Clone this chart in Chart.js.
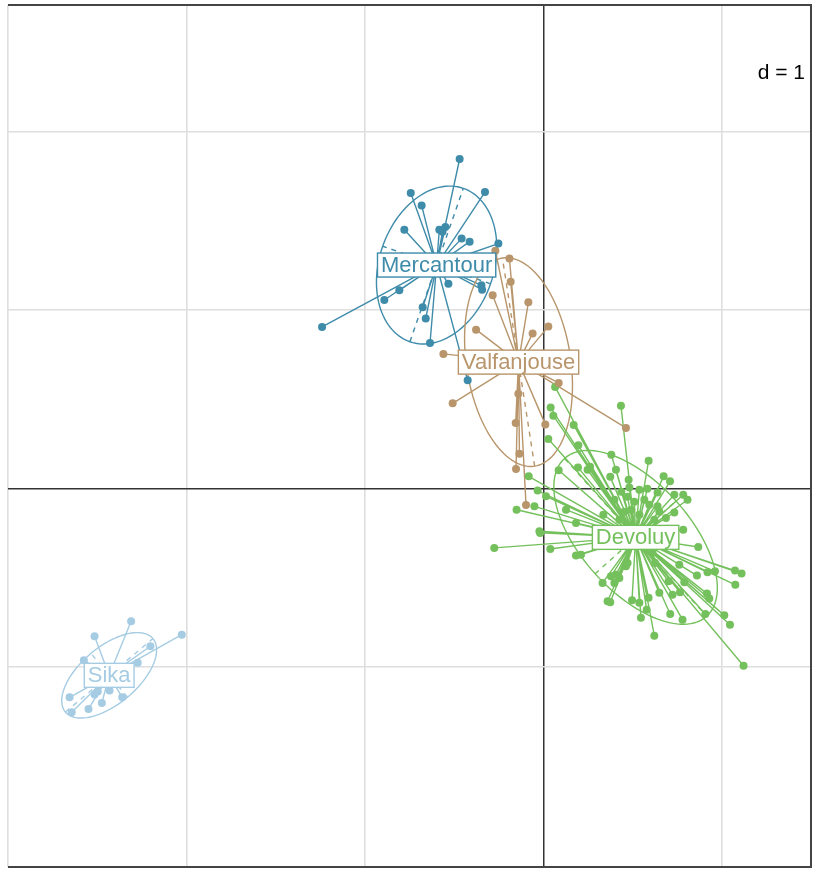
<!DOCTYPE html>
<html>
<head>
<meta charset="utf-8">
<script src="https://cdn.jsdelivr.net/npm/chart.js@4/dist/chart.umd.min.js"></script>
<style>
  body { margin: 0; background: #fff; }
  #wrap { width: 817px; height: 876px; }
</style>
</head>
<body>
<div id="wrap"><canvas id="myChart" width="817" height="876"></canvas></div>
<script>
// groups of the s.class plot
let groups = ['Mercantour', 'Valfanjouse', 'Devoluy', 'Sika'];
let groupColors = ['#3e8baa', '#b8956b', '#74c05c', '#a6cce3'];

// group centroids (where the labels sit)
let centerX = [-0.598, -0.139, 0.517, -2.433];
let centerY = [1.253, 0.709, -0.273, -1.046];

// ellipse semi axes and angle (degrees)
let ellA = [0.455, 0.59, 0.595, 0.32];
let ellB = [0.32, 0.292, 0.305, 0.16];
let ellAngle = [70.8, 98.8, -48, 40];

let mercantour = [
  [-0.469, 1.847], [-0.743, 1.657], [-0.327, 1.662], [-0.682, 1.587], [-0.779, 1.451],
  [-0.583, 1.451], [-0.549, 1.466], [-0.565, 1.440], [-0.458, 1.401], [-0.413, 1.384],
  [-0.252, 1.373], [-0.532, 1.148], [-0.347, 1.139], [-0.343, 1.115], [-0.807, 1.111],
  [-0.891, 1.057], [-0.676, 1.016], [-0.659, 0.954], [-1.240, 0.906], [-0.635, 0.816],
  [-0.424, 0.607]
];

let valfanjouse = [
  [-0.190, 1.289], [-0.183, 1.160], [-0.284, 1.083], [-0.084, 1.044], [-0.377, 0.891],
  [-0.060, 0.870], [0.028, 0.908], [-0.560, 0.755], [0.086, 0.592], [-0.508, 0.478],
  [0.463, 0.340], [-0.140, 0.532], [-0.155, 0.368], [0.011, 0.360], [-0.134, 0.196],
  [-0.153, 0.110], [-0.097, -0.091], [-0.269, 1.333]
];

let devoluy = [
  [0.066, 0.570], [0.041, 0.454], [0.056, 0.409], [0.170, 0.357], [0.028, 0.278],
  [0.196, 0.243], [0.381, 0.190], [0.086, 0.103], [0.194, 0.119], [0.248, 0.106],
  [0.262, 0.122], [-0.082, 0.069], [-0.032, -0.011], [0.015, -0.043], [-0.050, -0.099],
  [-0.150, -0.118], [0.127, -0.118], [0.183, -0.192], [0.336, -0.146], [0.375, 0.066],
  [0.407, 0.106], [-0.022, -0.239], [0.435, 0.465], [0.590, 0.157], [0.478, 0.050],
  [0.674, 0.069], [0.710, 0.041], [0.538, -0.006], [0.640, -0.021], [0.734, -0.034],
  [0.784, -0.034], [0.808, -0.062], [0.640, -0.099], [0.734, -0.133], [0.687, -0.164],
  [0.784, -0.230], [-0.018, -0.248], [-0.275, -0.332], [0.039, -0.338], [0.183, -0.374],
  [0.211, -0.370], [0.332, -0.528], [0.360, -0.631], [0.375, -0.637], [0.398, -0.528],
  [0.407, -0.482], [0.868, -0.327], [0.762, -0.426], [0.920, -0.469], [0.962, -0.463],
  [1.074, -0.459], [1.111, -0.476], [0.861, -0.487], [1.076, -0.539], [0.790, -0.525],
  [0.702, -0.519], [0.650, -0.584], [0.724, -0.594], [0.766, -0.581], [0.917, -0.588],
  [0.930, -0.616], [0.497, -0.626], [0.538, -0.640], [0.590, -0.612], [0.579, -0.678],
  [0.711, -0.702], [0.780, -0.734], [0.908, -0.702], [1.014, -0.710], [1.046, -0.762],
  [0.547, -0.724], [0.622, -0.824], [1.122, -0.992], [0.472, -0.416], [0.426, -0.500],
  [0.626, -0.416], [0.612, -0.360], [0.379, -0.491], [0.463, -0.435],
  [0.471, -0.045], [0.510, -0.073], [0.566, -0.062], [0.594, -0.090], [0.493, -0.118],
  [0.538, -0.146], [0.622, -0.174], [0.454, -0.129], [0.398, -0.062], [0.426, -0.174],
  [0.482, 0.006], [0.583, 0.000], [0.437, -0.017], [0.650, -0.129]
];

let sika = [
  [-2.310, -0.743], [-2.515, -0.827], [-2.026, -0.818], [-2.202, -0.883], [-2.575, -0.962],
  [-2.273, -0.976], [-2.655, -1.169], [-2.497, -1.136], [-2.431, -1.131], [-2.360, -1.169],
  [-2.474, -1.201], [-2.549, -1.234], [-2.643, -1.253], [-2.515, -1.154]
];

let groupPoints = [mercantour, valfanjouse, devoluy, sika];

let xGrid = [-3, -2, -1, 0, 1];
let yGrid = [-1, 0, 1, 2];

function toPx(chart, x, y) {
  return [chart.scales.x.getPixelForValue(x), chart.scales.y.getPixelForValue(y)];
}

// ellipses, ellipse axes and stars under the points
let classPlugin = {
  id: 'sclass',
  beforeDatasetsDraw(chart) {
    let ctx = chart.ctx;
    ctx.save();
    groups.forEach((g, i) => {
      let cx = centerX[i], cy = centerY[i];
      let th = ellAngle[i] * Math.PI / 180;
      let ca = Math.cos(th), sa = Math.sin(th);
      ctx.strokeStyle = groupColors[i];
      ctx.lineWidth = 1.4;
      ctx.setLineDash([]);
      ctx.beginPath();
      for (let k = 0; k <= 120; k++) {
        let t = k / 120 * Math.PI * 2;
        let ex = ellA[i] * Math.cos(t), ey = ellB[i] * Math.sin(t);
        let p = toPx(chart, cx + ex * ca - ey * sa, cy + ex * sa + ey * ca);
        if (k === 0) ctx.moveTo(p[0], p[1]); else ctx.lineTo(p[0], p[1]);
      }
      ctx.stroke();

      ctx.setLineDash([5, 5]);
      ctx.beginPath();
      let p1 = toPx(chart, cx - ellA[i] * ca, cy - ellA[i] * sa);
      let p2 = toPx(chart, cx + ellA[i] * ca, cy + ellA[i] * sa);
      ctx.moveTo(p1[0], p1[1]); ctx.lineTo(p2[0], p2[1]);
      let p3 = toPx(chart, cx + ellB[i] * sa, cy - ellB[i] * ca);
      let p4 = toPx(chart, cx - ellB[i] * sa, cy + ellB[i] * ca);
      ctx.moveTo(p3[0], p3[1]); ctx.lineTo(p4[0], p4[1]);
      ctx.stroke();

      ctx.setLineDash([]);
      let c = toPx(chart, cx, cy);
      ctx.beginPath();
      groupPoints[i].forEach(pt => {
        let p = toPx(chart, pt[0], pt[1]);
        ctx.moveTo(c[0], c[1]);
        ctx.lineTo(p[0], p[1]);
      });
      ctx.stroke();
    });
    ctx.restore();
  },
  afterDatasetsDraw(chart) {
    let ctx = chart.ctx;
    let a = chart.chartArea;
    ctx.save();
    // frame
    ctx.strokeStyle = '#444';
    ctx.lineWidth = 2;
    ctx.beginPath();
    ctx.moveTo(a.left, a.top); ctx.lineTo(a.right, a.top);
    ctx.lineTo(a.right, a.bottom); ctx.lineTo(a.left, a.bottom);
    ctx.stroke();

    // class labels
    ctx.font = '22px "Liberation Sans", Arial, sans-serif';
    ctx.textAlign = 'center';
    ctx.textBaseline = 'middle';
    groups.forEach((g, i) => {
      let c = toPx(chart, centerX[i], centerY[i]);
      let w = ctx.measureText(g).width + 7;
      let h = 24;
      ctx.fillStyle = '#fff';
      ctx.fillRect(c[0] - w / 2, c[1] - h / 2, w, h);
      ctx.strokeStyle = groupColors[i];
      ctx.lineWidth = 1.4;
      ctx.strokeRect(c[0] - w / 2, c[1] - h / 2, w, h);
      ctx.fillStyle = groupColors[i];
      ctx.fillText(g, c[0], c[1] + 1);
    });

    // scale of the grid
    ctx.font = '21px "Liberation Sans", Arial, sans-serif';
    ctx.textAlign = 'right';
    ctx.textBaseline = 'alphabetic';
    ctx.fillStyle = '#000';
    ctx.fillText('d = 1', 805, 79);
    ctx.restore();
  }
};

let datasets = groups.map((g, i) => ({
  label: g,
  data: groupPoints[i].map(p => ({ x: p[0], y: p[1] })),
  backgroundColor: groupColors[i],
  borderWidth: 0,
  pointRadius: 4,
  showLine: false
}));

let chart1 = new Chart(document.getElementById('myChart').getContext('2d'), {
  type: 'scatter',
  data: { datasets: datasets },
  options: {
    responsive: false,
    animation: false,
    devicePixelRatio: 1,
    layout: { padding: { left: 8, right: 6, top: 5, bottom: 9 } },
    plugins: { legend: { display: false }, tooltip: { enabled: false } },
    scales: {
      x: {
        type: 'linear', min: -3, max: 1.5,
        afterBuildTicks: s => { s.ticks = xGrid.map(v => ({ value: v })); },
        ticks: { display: false },
        border: { display: false },
        grid: {
          drawTicks: false,
          color: c => c.tick && c.tick.value === 0 ? '#333' : '#dedede',
          lineWidth: c => c.tick && c.tick.value === 0 ? 1.5 : 1.6
        }
      },
      y: {
        type: 'linear', min: -2.12, max: 2.71,
        afterBuildTicks: s => { s.ticks = yGrid.map(v => ({ value: v })); },
        ticks: { display: false },
        border: { display: false },
        grid: {
          drawTicks: false,
          color: c => c.tick && c.tick.value === 0 ? '#333' : '#dedede',
          lineWidth: c => c.tick && c.tick.value === 0 ? 1.5 : 1.6
        }
      }
    }
  },
  plugins: [classPlugin]
});
</script>
</body>
</html>
